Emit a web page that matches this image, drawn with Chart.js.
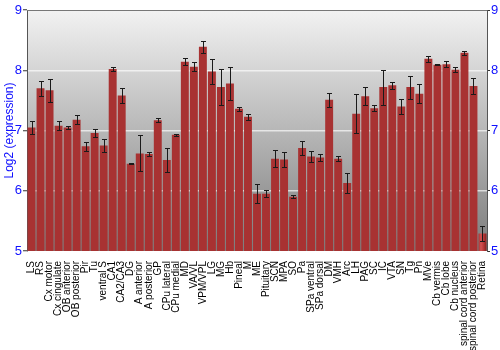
<!DOCTYPE html>
<html>
<head>
<meta charset="utf-8">
<script src="https://cdn.jsdelivr.net/npm/chart.js@4.4.1/dist/chart.umd.min.js"></script>
<style>
    html, body { margin: 0; padding: 0; background: #fff; }
    #box { width: 500px; height: 350px; }
</style>
</head>
<body>
<div id="box"><canvas id="grafico"></canvas></div>
<script>
const regioes = ['LS', 'RS', 'Cx motor', 'Cx cingulate', 'OB anterior', 'OB posterior', 'Pir', 'Tu',
    'ventral S', 'CA1', 'CA2/CA3', 'DG', 'A anterior', 'A posterior', 'GP', 'CPu lateral', 'CPu medial',
    'MD', 'VA/VL', 'VPM/VPL', 'LG', 'MG', 'Hb', 'Pineal', 'M', 'ME', 'Pituitary', 'SCN', 'MPA', 'SO',
    'Pa', 'SPa ventral', 'SPa dorsal', 'DM', 'VMH', 'Arc', 'LH', 'PAG', 'SC', 'IC', 'VTA', 'SN', 'Tg',
    'Pn', 'MVe', 'Cb vermis', 'Cb lobe', 'Cb nucleus', 'spinal cord anterior', 'spinal cord posterior',
    'Retina'];

const expressao = [7.05, 7.70, 7.67, 7.08, 7.05, 7.18, 6.74, 6.96,
    6.75, 8.02, 7.58, 6.45, 6.62, 6.61, 7.17, 6.51, 6.93,
    8.14, 8.06, 8.39, 7.98, 7.72, 7.78, 7.36, 7.23, 5.95, 5.95, 6.53, 6.52, 5.90,
    6.71, 6.57, 6.55, 7.51, 6.53, 6.13, 7.28, 7.57, 7.37, 7.72, 7.75, 7.40, 7.72,
    7.61, 8.19, 8.09, 8.10, 8.01, 8.29, 7.74,
    5.29];

const erro = [0.11, 0.12, 0.19, 0.07, 0.03, 0.07, 0.075, 0.06,
    0.11, 0.03, 0.12, 0.01, 0.30, 0.03, 0.035, 0.20, 0.02,
    0.06, 0.08, 0.10, 0.20, 0.30, 0.27, 0.03, 0.05, 0.16, 0.06, 0.14, 0.13, 0.025,
    0.11, 0.09, 0.055, 0.12, 0.04, 0.17, 0.32, 0.15, 0.045, 0.29, 0.06, 0.13, 0.19,
    0.16, 0.045, 0.01, 0.05, 0.04, 0.035, 0.13,
    0.13];

const marcasY = [5, 6, 7, 8, 9];

const fonte = '"Liberation Sans", Arial, sans-serif';
const azul = '#1010ff';

// fundo cinza em degradê + borda de cima
const fundo = {
    id: 'fundo',
    beforeDraw(chart) {
        const { ctx, chartArea: a } = chart;
        const g = ctx.createLinearGradient(0, a.top, 0, a.bottom);
        g.addColorStop(0, '#f2f2f2');
        g.addColorStop(1, '#7c7c7c');
        ctx.save();
        ctx.fillStyle = g;
        ctx.fillRect(a.left, a.top, a.right - a.left, a.bottom - a.top);
        ctx.restore();
    },
    afterDraw(chart) {
        const { ctx, chartArea: a } = chart;
        ctx.save();
        ctx.strokeStyle = '#777';
        ctx.lineWidth = 1;
        ctx.beginPath();
        ctx.moveTo(a.left, a.top + 0.5);
        ctx.lineTo(a.right, a.top + 0.5);
        ctx.stroke();
        ctx.restore();
    }
};

// cada barra com degradê horizontal
const barrasDegrade = {
    id: 'barrasDegrade',
    beforeDatasetsDraw(chart) {
        const { ctx } = chart;
        chart.getDatasetMeta(0).data.forEach((barra) => {
            const x0 = barra.x - barra.width / 2;
            const x1 = barra.x + barra.width / 2;
            const g = ctx.createLinearGradient(x0, 0, x1, 0);
            g.addColorStop(0, '#a83232');
            g.addColorStop(0.3, '#d25454');
            g.addColorStop(0.6, '#bc3c3c');
            g.addColorStop(1, '#84201f');
            barra.options.backgroundColor = g;
        });
    }
};

// barras de erro
const barrasErro = {
    id: 'barrasErro',
    afterDatasetsDraw(chart) {
        const { ctx } = chart;
        const y = chart.scales.y;
        ctx.save();
        ctx.strokeStyle = '#1a1a1a';
        ctx.lineWidth = 1;
        chart.getDatasetMeta(0).data.forEach((barra, i) => {
            const x = Math.round(barra.x) + 0.5;
            const topo = Math.round(y.getPixelForValue(expressao[i] + erro[i])) + 0.5;
            const base = Math.round(y.getPixelForValue(expressao[i] - erro[i])) + 0.5;
            ctx.beginPath();
            ctx.moveTo(x, topo);
            ctx.lineTo(x, base);
            ctx.moveTo(x - 2.5, topo);
            ctx.lineTo(x + 2.5, topo);
            ctx.moveTo(x - 2.5, base);
            ctx.lineTo(x + 2.5, base);
            ctx.stroke();
        });
        ctx.restore();
    }
};

const grafico = new Chart(document.getElementById('grafico'), {
    type: 'bar',
    data: {
        labels: regioes,
        datasets: [{
            data: expressao,
            backgroundColor: '#b03030',
            borderWidth: 0,
            categoryPercentage: 1,
            barPercentage: 0.88
        }]
    },
    options: {
        responsive: true,
        maintainAspectRatio: false,
        animation: false,
        layout: { padding: { top: 10, left: 0, right: 0, bottom: 0 } },
        plugins: {
            legend: { display: false },
            tooltip: { enabled: false }
        },
        scales: {
            x: {
                grid: { display: false },
                border: { display: false },
                ticks: {
                    autoSkip: false,
                    maxRotation: 90,
                    minRotation: 90,
                    padding: 2,
                    color: '#000',
                    font: { family: fonte, size: 10 }
                },
                afterFit(escala) { escala.height = 99; }
            },
            y: {
                position: 'left',
                min: 5,
                max: 9,
                afterBuildTicks(escala) { escala.ticks = marcasY.map((v) => ({ value: v })); },
                grid: {
                    color: (c) => (c.tick && c.tick.value > 5 && c.tick.value < 9) ? 'rgba(255,255,255,0.65)' : 'rgba(0,0,0,0)',
                    lineWidth: 1.5,
                    tickLength: 4,
                    tickColor: '#333',
                    tickWidth: 1
                },
                border: { display: true, color: '#555', width: 1 },
                ticks: {
                    padding: 1,
                    color: azul,
                    font: { family: fonte, size: 13 }
                },
                title: {
                    display: true,
                    text: 'Log2 (expression)',
                    color: azul,
                    padding: { top: 2, bottom: 0 },
                    font: { family: fonte, size: 12 }
                },
                afterFit(escala) { escala.width = 27; }
            },
            y2: {
                position: 'right',
                min: 5,
                max: 9,
                afterBuildTicks(escala) { escala.ticks = marcasY.map((v) => ({ value: v })); },
                grid: {
                    drawOnChartArea: false,
                    tickLength: 3,
                    tickColor: '#333'
                },
                border: { display: true, color: '#555', width: 1 },
                ticks: {
                    padding: 1,
                    color: azul,
                    font: { family: fonte, size: 13 }
                },
                afterFit(escala) { escala.width = 13; }
            }
        }
    },
    plugins: [fundo, barrasDegrade, barrasErro]
});
</script>
</body>
</html>
